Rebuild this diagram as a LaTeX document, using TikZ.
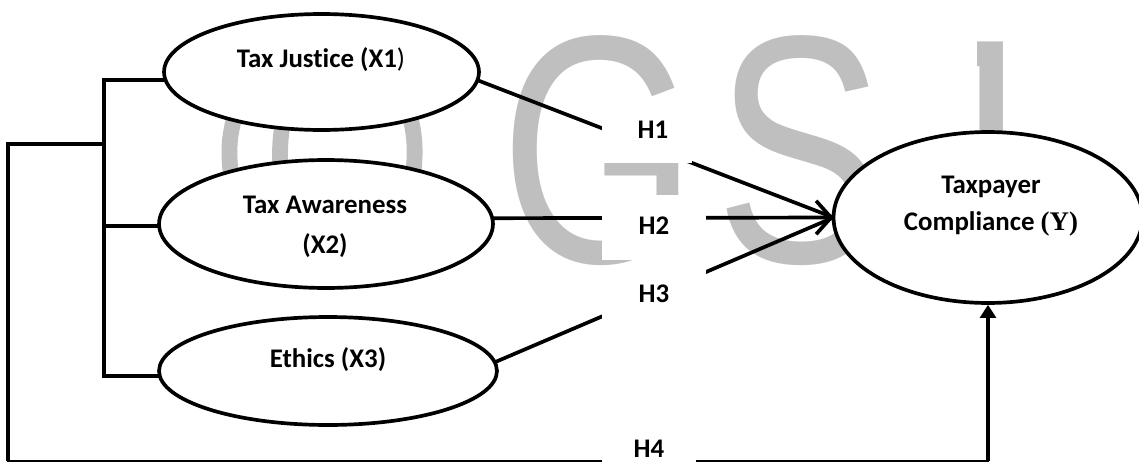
\documentclass[tikz,border=0pt]{standalone}
\usepackage{graphicx}
\usepackage{fontspec}
\setmainfont{Carlito}[Ligatures=NoCommon]
\newfontfamily\wmfont{Liberation Sans}
\newfontfamily\serifb{Liberation Serif}
\usetikzlibrary{shapes.geometric,arrows.meta}
\pgfdeclarelayer{bg}
\pgfsetlayers{bg,main}
\begin{document}
\begin{tikzpicture}[x=0.02cm,y=-0.02cm,
  ell/.style={ellipse, draw, line width=2.1pt, fill=white, inner sep=0pt, outer sep=0pt},
  txt/.style={font=\fontsize{15.3pt}{22.7pt}\selectfont\bfseries, align=center, inner sep=0pt},
  hyp/.style={fill=white, inner sep=0pt, font=\fontsize{15.3pt}{18pt}\selectfont\bfseries},
  conn/.style={line width=2.1pt},
  wm/.style={text=black!25, inner sep=0pt, anchor=base west, font=\wmfont\fontsize{185pt}{185pt}\selectfont},
  wmarc/.style={draw=black!25, line width=9pt}
]
\useasboundingbox (0,0) rectangle (1139,463);

% ellipses
\node[ell, minimum width=6.3cm, minimum height=2.32cm] (X1) at (321.5,72) {};
\node[ell, minimum width=6.68cm, minimum height=2.56cm] (X2) at (326,224) {};
\node[ell, minimum width=6.76cm, minimum height=2.16cm] (X3) at (328,371) {};
\node[ell, minimum width=6.18cm, minimum height=3.42cm] (Y) at (988,217.5) {};

% texts
\node[txt] (X1t) at (321,60) {Tax Justice (X1{\mdseries)}};
\node[txt] (X2t) at (325,227) {Tax Awareness\\(X2)};
\node[txt] (X3t) at (328,360) {Ethics (X3)};
\node[txt] (Yt) at (991,206) {Taxpayer\\[-1.7pt]Compliance {\serifb (Y)}};

% hypothesis labels
\node[hyp, minimum width=1.8cm, minimum height=1.26cm] (H1) at (647,131.5) {\hspace*{6.8pt}\raisebox{2.5pt}{H1}};
\node[hyp, minimum width=2.08cm, minimum height=1.3cm] (H2) at (654,227.5) {\raisebox{2.5pt}{H2}};
\node[hyp, minimum width=2.08cm, minimum height=1.04cm] (H3) at (654,294) {\raisebox{-2.3pt}{H3}};
\node[hyp, minimum width=1.88cm, minimum height=0.5cm] (H4) at (649,449) {\raisebox{-1.7pt}{H4}};

\begin{pgfonlayer}{bg}
  % watermark
  \node[wm] (wG) at (500,262) {\scalebox{0.78}[1]{G}};
  \node[wm] (wS) at (715,262) {\scalebox{0.78}[1]{S}};
  \begin{scope}
    \clip (977,0) rectangle (1003,140);
    \node[wm] (wJ) at (895,265) {\scalebox{0.78}[1]{J}};
  \end{scope}
  \draw[wmarc] (236,112) .. controls (229,135) and (228,150) .. (231,176);
  \draw[wmarc] (285,112) .. controls (280,135) and (279,150) .. (281,176);
  \draw[wmarc] (409,112) .. controls (415,135) and (416,150) .. (413,176);

  % bracket
  \coordinate (b1) at (104,80);
  \coordinate (b2) at (104,226);
  \coordinate (b3) at (104,376);
  \coordinate (bm) at (104,144);
  \coordinate (c1) at (8,144);
  \coordinate (c2) at (8,461);
  \draw[conn] (b1 -| X1.center) -- (b1) -- (b3) -- (b3 -| X3.center);
  \draw[conn] (b2) -- (b2 -| X2.center);
  \draw[conn] (bm) -- (c1) -- (c2);
  \draw[line width=1.4pt, line cap=rect] (c2) -- (c2 -| Y.south);
  \draw[line width=2.4pt, shorten >=1pt, -{Triangle[length=7.5pt,width=9pt]}] (c2 -| Y.south) -- (Y.south);

  % hypothesis paths
  \draw[conn] (X1.357) -- (Y.west);
  \draw[conn, -{Straight Barb[length=8.5pt,width=19pt]}] (X2.2) -- (Y.west);
  \draw[conn] (X3.3) -- (Y.west);
\end{pgfonlayer}
\end{tikzpicture}
\end{document}
